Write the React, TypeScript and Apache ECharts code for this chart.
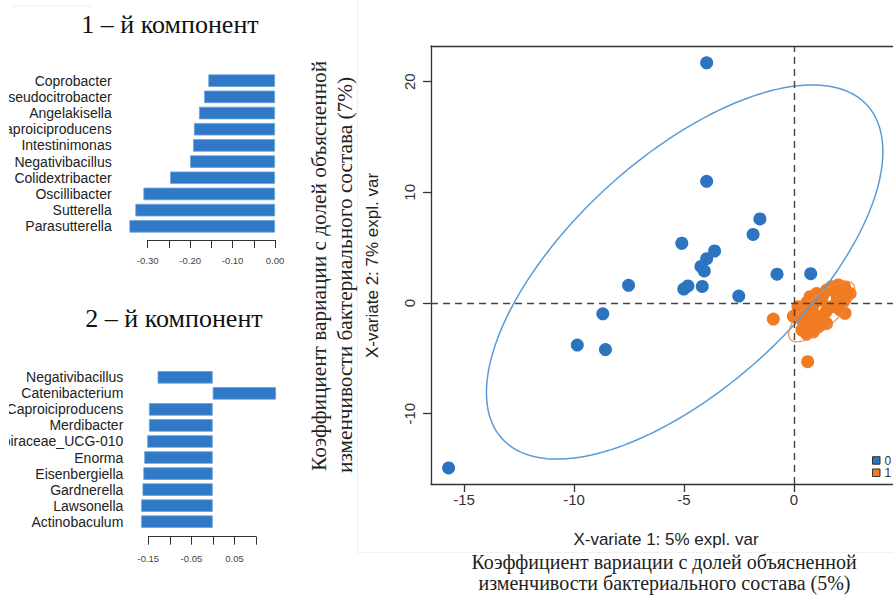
import React, { useEffect, useRef } from "react";
import * as echarts from "echarts";

// Loadings of the first component
const comp1Taxa = [
  "Coprobacter",
  "Pseudocitrobacter",
  "Angelakisella",
  "Caproiciproducens",
  "Intestinimonas",
  "Negativibacillus",
  "Colidextribacter",
  "Oscillibacter",
  "Sutterella",
  "Parasutterella",
];
const comp1Loadings = [-0.157, -0.167, -0.179, -0.191, -0.193, -0.2, -0.247, -0.31, -0.329, -0.343];

// Loadings of the second component
const comp2Taxa = [
  "Negativibacillus",
  "Catenibacterium",
  "Caproiciproducens",
  "Merdibacter",
  "Oscillospiraceae_UCG-010",
  "Enorma",
  "Eisenbergiella",
  "Gardnerella",
  "Lawsonella",
  "Actinobaculum",
];
const comp2Loadings = [-0.128, 0.147, -0.148, -0.148, -0.152, -0.159, -0.161, -0.163, -0.166, -0.166];

const comp1Ticks = [-0.3, -0.25, -0.2, -0.15, -0.1, -0.05, 0];
const comp1TickLabels = [-0.3, -0.2, -0.1, 0];
const comp2Ticks = [-0.15, -0.1, -0.05, 0, 0.05, 0.1];
const comp2TickLabels = [-0.15, -0.05, 0.05];

// Sample scores, group "0"
const group0X = [-3.97, -3.97, -1.55, -1.86, -5.1, -3.61, -3.97, -4.23, -4.08, -0.77, 0.76, -7.52, -5.01, -4.82, -4.17, -2.51, -8.69, -9.85, -8.57, -15.7];
const group0Y = [21.7, 11.0, 7.6, 6.2, 5.4, 4.7, 4.0, 3.3, 2.9, 2.6, 2.65, 1.6, 1.26, 1.54, 1.5, 0.63, -0.97, -3.8, -4.2, -14.9];

// Sample scores, group "1"
const group1X = [-0.94, 0.62, -0.03, 0.24, 0.42, 0.36, 0.58, 0.88, 0.73, 0.65, 0.88, 0.73, 1.03, 1.26, 1.48, 1.71, 2.01, 2.24, 2.3, 1.97, 1.71, 1.45, 1.21, 1.11, 1.48, 2.32, 2.09, 0.27, 0.5, 2.55, 1.86, 1.33, 0.58, 0.95, 0.58, 0.18, 2.3];
const group1Y = [-1.45, -5.3, -1.2, -0.57, -1.69, -2.44, -2.8, -2.6, -1.99, -1.08, -0.18, 0.57, 0.87, 0.27, 1.17, 1.47, 1.63, 1.02, 0.27, 0.42, -0.33, -0.78, -1.38, -2.14, -1.84, -0.93, -0.63, -1.2, -0.33, 0.87, 1.02, 0.78, 0.03, -1.08, -2.44, -0.33, 1.47];

// Confidence ellipses: [centre x, centre y, half-width, half-height, correlation]
const ellipse0 = [-4.97, 2.8, 9.01, 16.9, 0.644];
const ellipse1 = [1.26, -0.78, 1.5, 2.72, 0.75];

const xTicks = [-15, -10, -5, 0];
const yTicks = [-10, 0, 10, 20];

const groupLabels = ["0", "1"];

const BLUE = "#2c74bf";
const ORANGE = "#f07b22";
const BAR = "#3079c6";
const sans = "'Liberation Sans', Arial, Helvetica, sans-serif";
const serif = "'Liberation Serif', 'Times New Roman', serif";

function ellipseSeries(params: number[], color: string, width: number) {
  return {
    type: "custom",
    xAxisIndex: 4,
    yAxisIndex: 4,
    z: 4,
    silent: true,
    data: [params],
    encode: { x: 0, y: 1 },
    renderItem: (_p: any, api: any) => {
      const cx = api.value(0);
      const cy = api.value(1);
      const sx = api.value(2);
      const sy = api.value(3);
      const r = api.value(4);
      const k = Math.sqrt(1 - r * r);
      const pts: number[][] = [];
      for (let i = 0; i <= 180; i++) {
        const t = (i / 180) * Math.PI * 2;
        const c = Math.cos(t);
        const s = Math.sin(t);
        pts.push(api.coord([cx + sx * c, cy + sy * (r * c + k * s)]));
      }
      return {
        type: "polyline",
        shape: { points: pts },
        style: { fill: "none", stroke: color, lineWidth: width },
      };
    },
  };
}

function loadingAxis(grid: number, min: number, max: number, ticks: number[], labels: number[], margin: number) {
  return {
    gridIndex: grid,
    type: "value",
    min,
    max,
    axisLine: { show: true, onZero: false, lineStyle: { color: "#333", width: 1 } },
    axisTick: { show: true, length: 8, customValues: ticks, lineStyle: { color: "#333", width: 1 } },
    axisLabel: {
      customValues: labels,
      formatter: (v: number) => v.toFixed(2),
      fontSize: 9.5,
      color: "#444",
      fontFamily: sans,
      margin,
    },
    splitLine: { show: false },
  };
}

function taxaAxis(grid: number, names: string[], margin: number) {
  return {
    gridIndex: grid,
    type: "category",
    data: names,
    inverse: true,
    axisLine: { show: false },
    axisTick: { show: false },
    axisLabel: { interval: 0, fontSize: 14, color: "#222", fontFamily: sans, margin },
  };
}

export default function App() {
  const ref = useRef<HTMLDivElement>(null);

  useEffect(() => {
    if (!ref.current) return;
    const chart = echarts.init(ref.current, undefined, { renderer: "svg" });

    const text = (x: number, y: number, s: string, size: number, family: string, opts: any = {}) => ({
      type: "text",
      x,
      y,
      rotation: opts.rotation || 0,
      z: 50,
      style: {
        text: s,
        fontSize: size,
        fontFamily: family,
        fill: opts.fill || "#1a1a1a",
        align: opts.align || "center",
        verticalAlign: "middle",
      },
    });

    const fixedGrid = (left: number, top: number, width: number, height: number) => ({
      left,
      top,
      width,
      height,
      containLabel: false,
      outerBoundsMode: "none",
    });

    chart.setOption({
      animation: false,
      backgroundColor: "#ffffff",
      grid: [
        fixedGrid(122.2, 72.6, 152.8, 161.8),
        fixedGrid(147.7, 230, 127.3, 10),
        fixedGrid(139.5, 369.3, 137.8, 160.4),
        fixedGrid(148.3, 526.7, 107.7, 10),
        fixedGrid(431, 46, 462, 438),
      ],
      xAxis: [
        { gridIndex: 0, type: "value", min: -0.36, max: 0, show: false },
        loadingAxis(1, -0.3, 0, comp1Ticks, comp1TickLabels, 15),
        { gridIndex: 2, type: "value", min: -0.17, max: 0.15, show: false },
        loadingAxis(3, -0.15, 0.1, comp2Ticks, comp2TickLabels, 17),
        {
          gridIndex: 4,
          type: "value",
          min: -16.5,
          max: 4.5,
          axisLine: { show: true, onZero: false, lineStyle: { color: "#333", width: 1.3 } },
          axisTick: { show: true, length: 8, customValues: xTicks, lineStyle: { color: "#333", width: 1.3 } },
          axisLabel: { customValues: xTicks, fontSize: 15, color: "#333", fontFamily: sans, margin: 8 },
          splitLine: { show: false },
        },
        {
          // top edge of the plot frame
          gridIndex: 4,
          type: "value",
          position: "top",
          min: -16.5,
          max: 4.5,
          axisLine: { show: true, onZero: false, lineStyle: { color: "#333", width: 1.3 } },
          axisTick: { show: false },
          axisLabel: { show: false },
          splitLine: { show: false },
        },
      ],
      yAxis: [
        taxaAxis(0, comp1Taxa, 10.5),
        { gridIndex: 1, type: "value", show: false },
        taxaAxis(2, comp2Taxa, 16.2),
        { gridIndex: 3, type: "value", show: false },
        {
          gridIndex: 4,
          type: "value",
          min: -16.35,
          max: 23.22,
          axisLine: { show: true, onZero: false, lineStyle: { color: "#333", width: 1.3 } },
          axisTick: { show: true, length: 8, customValues: yTicks, lineStyle: { color: "#333", width: 1.3 } },
          axisLabel: { customValues: yTicks, rotate: 90, fontSize: 15, color: "#333", fontFamily: sans, margin: 14 },
          splitLine: { show: false },
        },
      ],
      series: [
        {
          type: "bar",
          xAxisIndex: 0,
          yAxisIndex: 0,
          data: comp1Loadings,
          barWidth: 12.5,
          itemStyle: { color: BAR, borderColor: "#6aa2dc", borderWidth: 0.8 },
        },
        {
          type: "bar",
          xAxisIndex: 2,
          yAxisIndex: 2,
          data: comp2Loadings,
          barWidth: 12.5,
          itemStyle: { color: BAR, borderColor: "#6aa2dc", borderWidth: 0.8 },
        },
        {
          type: "scatter",
          xAxisIndex: 4,
          yAxisIndex: 4,
          z: 2,
          symbolSize: 13,
          itemStyle: { color: BLUE, opacity: 1 },
          data: group0X.map((x, i) => [x, group0Y[i]]),
        },
        {
          type: "scatter",
          xAxisIndex: 4,
          yAxisIndex: 4,
          z: 3,
          symbolSize: 13,
          itemStyle: { color: ORANGE, opacity: 1 },
          data: group1X.map((x, i) => [x, group1Y[i]]),
        },
        ellipseSeries(ellipse0, "#5b9bd5", 1.5),
        ellipseSeries(ellipse1, "#f08a3c", 1.2),
        {
          type: "line",
          xAxisIndex: 4,
          yAxisIndex: 4,
          z: 6,
          data: [],
          markLine: {
            silent: true,
            symbol: ["none", "none"],
            label: { show: false },
            lineStyle: { type: [7, 5], color: "#444", width: 1.4 },
            data: [{ xAxis: 0 }, { yAxis: 0 }],
          },
        },
      ],
      graphic: [
        // faint panel borders
        { type: "line", z: 1, shape: { x1: 357.5, y1: 0, x2: 357.5, y2: 553 }, style: { stroke: "#eeeeee", lineWidth: 1 } },
        { type: "line", z: 1, shape: { x1: 12, y1: 6, x2: 92, y2: 6 }, style: { stroke: "#eeeeee", lineWidth: 1 } },
        { type: "line", z: 1, shape: { x1: 357.5, y1: 552.5, x2: 893, y2: 552.5 }, style: { stroke: "#f2f2f2", lineWidth: 1 } },
        // left edge of the loadings panels
        { type: "rect", z: 100, shape: { x: 0, y: 40, width: 9, height: 520 }, style: { fill: "#ffffff" } },
        text(170, 24, "1 – й компонент", 26, serif, { fill: "#111" }),
        text(174, 318, "2 – й компонент", 26, serif, { fill: "#111" }),
        text(319, 471, "Коэффициент вариации с долей объясненной", 21.3, serif, { rotation: Math.PI / 2, align: "left", fill: "#222" }),
        text(345, 473, "изменчивости бактериального состава (7%)", 21.3, serif, { rotation: Math.PI / 2, align: "left", fill: "#222" }),
        text(664, 561.5, "Коэффициент вариации с долей объясненной", 20, serif, { fill: "#222" }),
        text(664.5, 582.5, "изменчивости бактериального состава (5%)", 20, serif, { fill: "#222" }),
        text(666, 539, "X-variate 1: 5% expl. var", 17, sans, { fill: "#222" }),
        text(372, 265.5, "X-variate 2: 7% expl. var", 17, sans, { rotation: Math.PI / 2, fill: "#222" }),
        // group legend
        { type: "rect", z: 60, shape: { x: 872.5, y: 456.7, width: 7.5, height: 7.5 }, style: { fill: BLUE, stroke: "#333", lineWidth: 1 } },
        { type: "rect", z: 60, shape: { x: 872.5, y: 469, width: 7.5, height: 7.5 }, style: { fill: ORANGE, stroke: "#333", lineWidth: 1 } },
        text(884.5, 460.5, groupLabels[0], 12, sans, { align: "left", fill: "#333" }),
        text(884.5, 473, groupLabels[1], 12, sans, { align: "left", fill: "#333" }),
      ],
    });

    return () => chart.dispose();
  }, []);

  return (
    <div
      ref={ref}
      style={{ position: "absolute", left: 0, top: 0, width: 893, height: 602, background: "#fff" }}
    />
  );
}
